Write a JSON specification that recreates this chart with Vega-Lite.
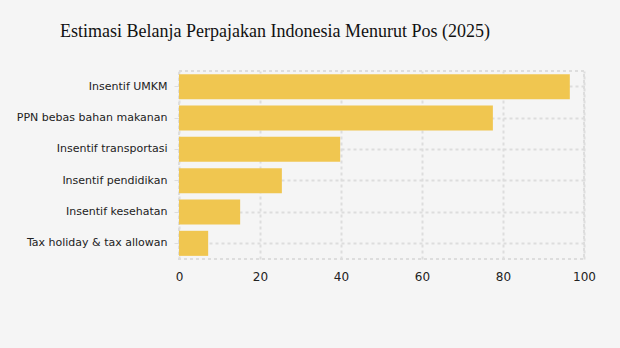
{
  "$schema": "https://vega.github.io/schema/vega-lite/v6.json",
  "width": 405,
  "height": 188,
  "autosize": "none",
  "padding": {"left": 179, "top": 71, "right": 36, "bottom": 89},
  "background": "#f5f5f5",
  "title": {
    "text": "Estimasi Belanja Perpajakan Indonesia Menurut Pos (2025)",
    "anchor": "start",
    "frame": "group",
    "dx": -119,
    "baseline": "alphabetic",
    "offset": 16,
    "font": "Liberation Serif",
    "fontSize": 18,
    "fontWeight": "normal",
    "color": "#111111"
  },
  "config": {
    "view": {"stroke": "#dddddd", "strokeDash": [3, 3], "strokeWidth": 2},
    "axis": {
      "labelFont": "DejaVu Sans",
      "labelFontSize": 11,
      "labelColor": "#222222",
      "gridColor": "#dddddd",
      "gridDash": [3, 3],
      "gridWidth": 2,
      "domain": false,
      "tickColor": "#dddddd"
    }
  },
  "data": {
    "values": [
      {"pos": "Insentif UMKM", "nilai": 96.5},
      {"pos": "PPN bebas bahan makanan", "nilai": 77.5},
      {"pos": "Insentif transportasi", "nilai": 39.8},
      {"pos": "Insentif pendidikan", "nilai": 25.4},
      {"pos": "Insentif kesehatan", "nilai": 15.1},
      {"pos": "Tax holiday & tax allowance", "nilai": 7.2}
    ]
  },
  "mark": {"type": "bar", "color": "#f0c650"},
  "encoding": {
    "y": {
      "field": "pos",
      "type": "nominal",
      "sort": null,
      "title": null,
      "scale": {"paddingInner": 0.2, "paddingOuter": 0.1},
      "axis": {"grid": true, "bandPosition": 0, "ticks": true, "tickBand": "center", "tickSize": 5, "labelPadding": 7, "labelLimit": 300, "labelExpr": "slice(datum.label, 0, 25)"}
    },
    "x": {
      "field": "nilai",
      "type": "quantitative",
      "title": null,
      "scale": {"domain": [0, 100]},
      "axis": {"values": [0, 20, 40, 60, 80, 100], "ticks": false, "labelPadding": 12, "labelFontSize": 12, "labelFlush": false}
    }
  }
}
